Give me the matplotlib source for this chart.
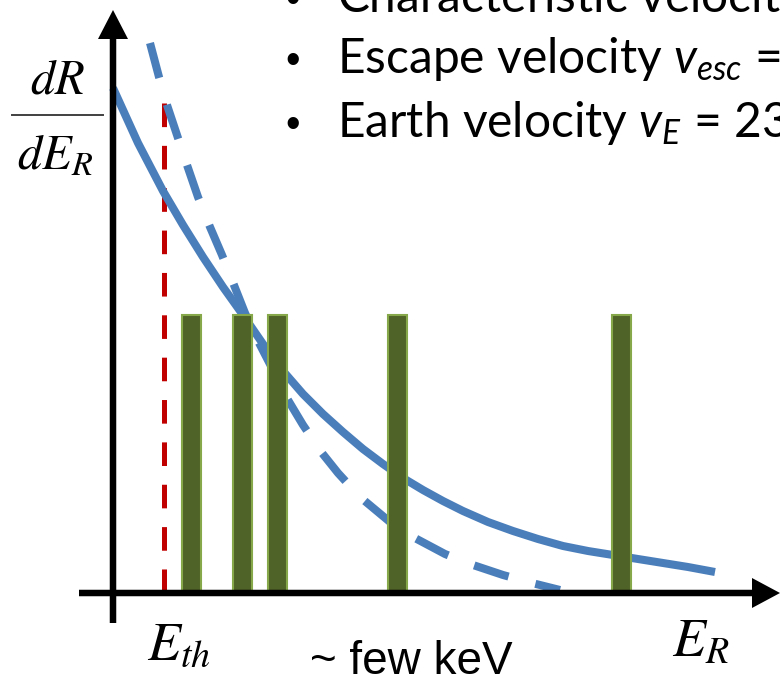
import matplotlib
matplotlib.use('Agg')
import matplotlib.pyplot as plt

plt.rcParams['lines.scale_dashes'] = False
plt.rcParams['mathtext.fontset'] = 'custom'
plt.rcParams['mathtext.rm'] = 'Lato'
plt.rcParams['mathtext.it'] = 'Lato:italic'

# recoil spectrum, arbitrary units (origin at the axis cross)
solid_E = [0, 2.5, 5.0, 7.0, 9.0, 11.0, 13.0, 15.0, 17.0, 19.0, 21.0, 23.0, 25.0, 27.0,
           29.0, 31.0, 33.0, 35.0, 37.5, 40.0, 42.5, 45.0, 47.5, 50.0, 52.5, 55.0, 57.5, 60.2]
solid_R = [50.5, 45.0, 40.2, 36.8, 33.6, 30.6, 27.8, 24.9, 22.2, 19.9, 17.9, 16.1, 14.4, 12.9,
           11.5, 10.3, 9.2, 8.2, 7.1, 6.2, 5.4, 4.7, 4.2, 3.8, 3.4, 3.0, 2.6, 2.1]

dashed_E = [3.7, 4.6, 5.4, 6.5, 7.4, 8.5, 9.7, 10.9, 11.7, 13.2, 14.4, 16.0, 17.2,
            19.0, 20.9, 22.5, 24.7, 27.7, 30.0, 33.2, 35.7, 39.0, 41.9, 44.7]
dashed_R = [55.0, 51.6, 48.8, 45.5, 42.8, 39.6, 36.6, 33.8, 31.8, 28.0, 25.4, 22.3, 19.8,
            16.8, 14.0, 12.0, 9.6, 7.1, 5.6, 3.9, 2.9, 1.8, 1.0, 0.3]

# threshold line
thr_E = [5.1, 5.1]
thr_R = [49.0, 0.2]

# detected events
bar_E = [7.8, 12.9, 16.4, 28.4, 50.8]
bar_R = [27.8, 27.8, 27.8, 27.8, 27.8]

bullets = ["Characteristic velocity $v_0$ = 220 km/s",
           "Escape velocity $v_{esc}$ = 544 km/s",
           "Earth velocity $v_E$ = 232 km/s"]
bullet_R = [58.1, 52.0, 45.6]

fig = plt.figure(figsize=(7.8, 6.83), dpi=100)
ax = fig.add_axes([0, 0, 1, 1])
ax.set_xlim(-11.3, 66.7)
ax.set_ylim(-9.0, 59.3)
ax.axis('off')

blue = '#4A7EBB'
ax.plot(thr_E, thr_R, color='#C00000', lw=3.6, linestyle=(0, (17, 13.5)), zorder=1)
ax.plot(solid_E, solid_R, color=blue, lw=5.8, solid_capstyle='butt',
        solid_joinstyle='round', zorder=2)
ax.plot(dashed_E, dashed_R, color=blue, lw=5.8, linestyle=(0, (26, 20)),
        dash_capstyle='butt', zorder=2)
ax.bar(bar_E, bar_R, width=1.9, color='#4F6228', edgecolor='#86A84A',
       linewidth=1.5, zorder=3)

# axes with arrow heads
ax.arrow(-3.4, 0, 70.1, 0, width=0.65, head_width=3.0, head_length=2.8,
         length_includes_head=True, fc='black', ec='none', zorder=5)
ax.arrow(0, -3.0, 0, 61.3, width=0.65, head_width=3.0, head_length=2.9,
         length_includes_head=True, fc='black', ec='none', zorder=5)

# axis labels
ax.text(-5.6, 50.0, r'$dR$', fontsize=35, math_fontfamily='stix',
        ha='center', va='baseline')
ax.plot([-10.1, -1.0], [47.8, 47.8], color='#404040', lw=1.4)
ax.text(-5.8, 42.4, r'$dE_R$', fontsize=35, math_fontfamily='stix',
        ha='center', va='baseline')
ax.text(3.4, -6.7, r'$E_{th}$', fontsize=39, math_fontfamily='stix',
        ha='left', va='baseline')
ax.text(55.9, -6.4, r'$E_R$', fontsize=39, math_fontfamily='stix',
        ha='left', va='baseline')
ax.text(19.7, -8.1, '~ few keV', fontsize=33, family='Liberation Sans',
        ha='left', va='baseline')

for txt, r in zip(bullets, bullet_R):
    ax.text(18.0, r, '\u2022', fontsize=30, family='Liberation Sans',
            ha='center', va='baseline')
    ax.text(22.4, r, txt, fontsize=34.5, family='Lato', ha='left', va='baseline')

fig.savefig('out.png', dpi=100)
